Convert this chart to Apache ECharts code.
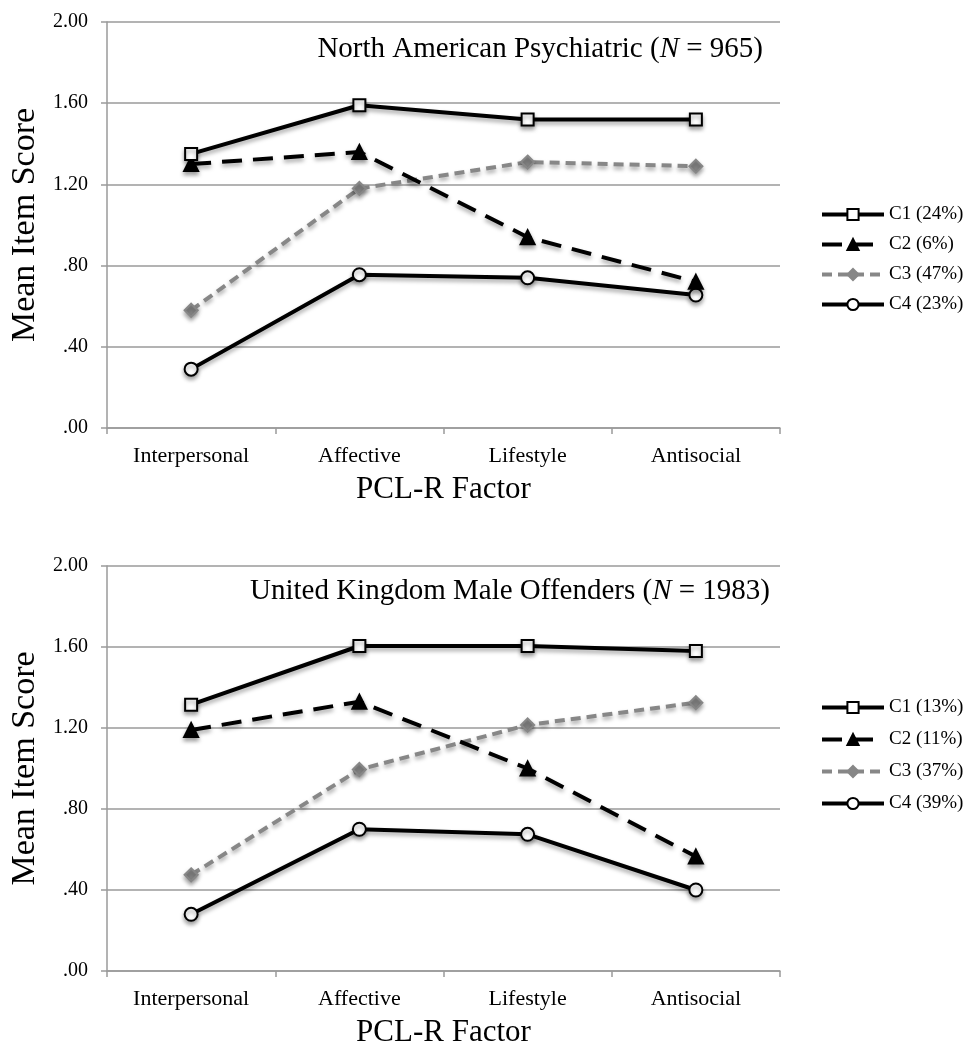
<!DOCTYPE html>
<html>
<head>
<meta charset="utf-8">
<script src="https://cdn.jsdelivr.net/npm/echarts@6/dist/echarts.min.js"></script>
<style>
  html, body { margin: 0; padding: 0; background: #fff; }
  #chart { width: 972px; height: 1046px; }
</style>
</head>
<body>
<div id="chart"></div>
<script>
// 数据
const factors = ['Interpersonal', 'Affective', 'Lifestyle', 'Antisocial']
const yTicks = [0, 0.4, 0.8, 1.2, 1.6, 2.0]

const naNames = ['C1 (24%)', 'C2 (6%)', 'C3 (47%)', 'C4 (23%)']
const naC1 = [1.35, 1.59, 1.52, 1.52]
const naC2 = [1.30, 1.36, 0.94, 0.72]
const naC3 = [0.58, 1.18, 1.31, 1.29]
const naC4 = [0.29, 0.755, 0.74, 0.655]

const ukNames = ['C1 (13%)', 'C2 (11%)', 'C3 (37%)', 'C4 (39%)']
const ukC1 = [1.315, 1.605, 1.605, 1.58]
const ukC2 = [1.19, 1.33, 1.0, 0.565]
const ukC3 = [0.475, 0.995, 1.215, 1.325]
const ukC4 = [0.28, 0.70, 0.675, 0.40]

const font = 'Liberation Serif, Times New Roman, serif'
const gridGray = '#9a9a9a'
const shadow = { shadowColor: 'rgba(0,0,0,0.35)', shadowBlur: 4, shadowOffsetY: 3 }

const fmtY = v => {
  const s = v.toFixed(2)
  return s.charAt(0) === '0' ? s.slice(1) : s
}

// 每个聚类的样式
const styles = [
  { symbol: 'rect', symbolSize: 12, color: '#000', fill: '#fff', dash: 'solid' },
  { symbol: 'triangle', symbolSize: 14, color: '#000', fill: '#000', dash: [20, 11] },
  { symbol: 'diamond', symbolSize: 13, color: '#878787', fill: '#878787', dash: [10, 6] },
  { symbol: 'circle', symbolSize: 13, color: '#000', fill: '#fff', dash: 'solid' }
]

const makeSeries = (names, datas, idx) => names.map((name, i) => ({
  name: name,
  type: 'line',
  xAxisIndex: idx,
  yAxisIndex: idx,
  data: datas[i],
  symbol: styles[i].symbol,
  symbolSize: styles[i].symbolSize,
  z: 10 - i,
  lineStyle: Object.assign({ color: styles[i].color, width: 4, type: styles[i].dash }, shadow),
  itemStyle: Object.assign({ color: styles[i].fill, borderColor: styles[i].color, borderWidth: 2 }, shadow)
}))

const makeX = (idx) => ({
  type: 'category',
  gridIndex: idx,
  data: factors,
  boundaryGap: true,
  name: 'PCL-R Factor',
  nameLocation: 'middle',
  nameGap: 46,
  nameTextStyle: { fontFamily: font, fontSize: 31, color: '#000' },
  axisLine: { lineStyle: { color: gridGray, width: 1.5 } },
  axisTick: { show: true, interval: 0, length: 6, lineStyle: { color: gridGray, width: 1.5 } },
  axisLabel: { fontFamily: font, fontSize: 22, color: '#000', margin: 17, interval: 0 }
})

const makeY = (idx) => ({
  type: 'value',
  gridIndex: idx,
  min: 0,
  max: yTicks[yTicks.length - 1],
  interval: yTicks[1] - yTicks[0],
  name: 'Mean Item Score',
  nameLocation: 'middle',
  nameGap: 62,
  nameTextStyle: { fontFamily: font, fontSize: 34, color: '#000' },
  axisLine: { show: true, lineStyle: { color: gridGray, width: 1.5 } },
  axisTick: { show: true, length: 6, lineStyle: { color: gridGray, width: 1.5 } },
  axisLabel: { fontFamily: font, fontSize: 20, color: '#000', margin: 19, formatter: fmtY },
  splitLine: { lineStyle: { color: gridGray, width: 1.5 } }
})

const makeLegend = (names, top, gap) => ({
  data: names,
  orient: 'vertical',
  left: 815,
  top: top,
  itemWidth: 62,
  itemHeight: 14,
  itemGap: gap,
  lineStyle: { width: 4, shadowBlur: 0, shadowOffsetY: 0 },
  itemStyle: { shadowBlur: 0, shadowOffsetY: 0 },
  textStyle: { fontFamily: font, fontSize: 19, color: '#000' },
  selectedMode: false
})

const titleRich = {
  t: { fontFamily: font, fontSize: 29, color: '#000', fontWeight: 'normal' },
  i: { fontFamily: font, fontSize: 29, color: '#000', fontStyle: 'italic', fontWeight: 'normal' }
}

const chart = echarts.init(document.getElementById('chart'))
chart.setOption({
  backgroundColor: '#fff',
  animation: false,
  title: [
    {
      text: '{t|North American Psychiatric (}{i|N}{t| = 965)}',
      right: 204,
      top: 30,
      textStyle: { fontWeight: 'normal', rich: titleRich }
    },
    {
      text: '{t|United Kingdom Male Offenders (}{i|N}{t| = 1983)}',
      right: 197,
      top: 572,
      textStyle: { fontWeight: 'normal', rich: titleRich }
    }
  ],
  legend: [
    makeLegend(naNames, 200, 11),
    makeLegend(ukNames, 693, 13)
  ],
  grid: [
    { left: 107, top: 22, width: 673, height: 406, outerBoundsMode: 'none' },
    { left: 107, top: 566, width: 673, height: 405, outerBoundsMode: 'none' }
  ],
  xAxis: [makeX(0), makeX(1)],
  yAxis: [makeY(0), makeY(1)],
  series: [
    ...makeSeries(naNames, [naC1, naC2, naC3, naC4], 0),
    ...makeSeries(ukNames, [ukC1, ukC2, ukC3, ukC4], 1)
  ]
})
</script>
</body>
</html>
